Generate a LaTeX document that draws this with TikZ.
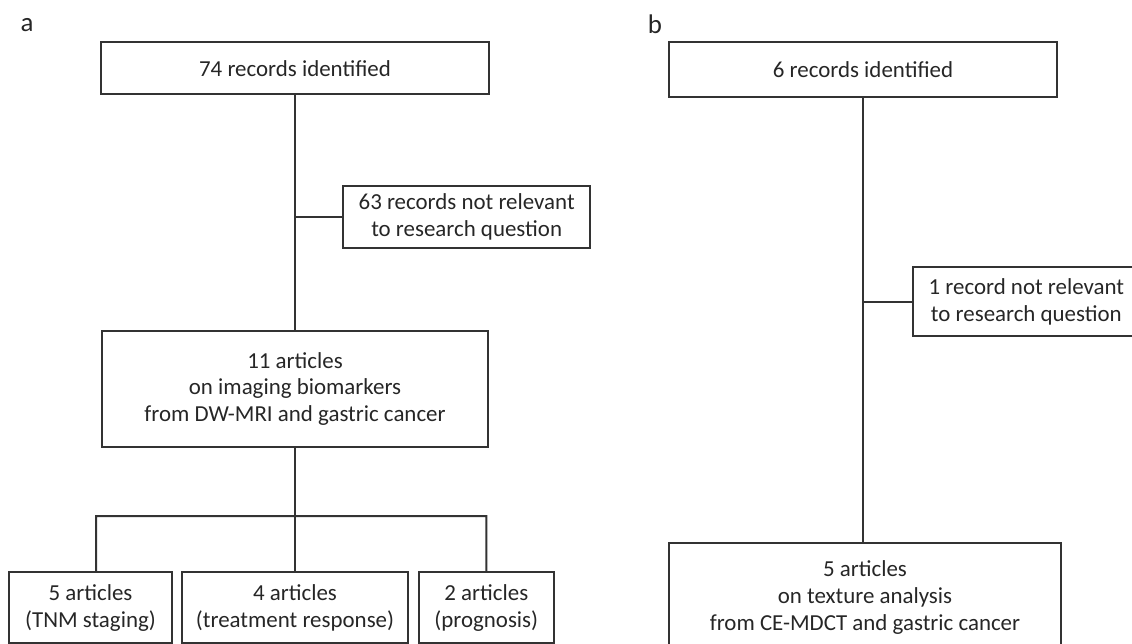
\documentclass[tikz,border=0pt]{standalone}
\usepackage{fontspec}
\setmainfont{Carlito}
\begin{document}
\begin{tikzpicture}[x=1bp,y=-1bp,
  box/.style={draw=black!80, line width=2bp, rectangle, inner sep=0pt, align=center,
    font=\fontsize{23}{27}\selectfont, text=black!85},
  conn/.style={draw=black!80, line width=2bp},
  panel/.style={font=\fontsize{27}{27}\selectfont, text=black!85}]
\useasboundingbox (0,0) rectangle (1132,644);
\clip (0,0) rectangle (1132,644);
% panel a
\node[panel] (la) at (27,25) {a};
\node[box, minimum width=387bp, minimum height=52bp] (T) at (295,68.3) {74 records identified};
\node[box, minimum width=246.7bp, minimum height=62.3bp] (E) at (466.65,216.85) {63 records not relevant\\to research question};
\node[box, minimum width=386.3bp, minimum height=116bp] (M) at (295,389) {11 articles\\on imaging biomarkers\\from DW-MRI and gastric cancer};
\node[box, minimum width=163bp, minimum height=71.3bp] (B1) at (90.5,607.65) {5 articles\\(TNM staging)};
\node[box, minimum width=226.6bp, minimum height=71.3bp] (B2) at (295,607.65) {4 articles\\(treatment response)};
\node[box, minimum width=135.4bp, minimum height=71.3bp] (B3) at (486.3,607.65) {2 articles\\(prognosis)};
\draw[conn] (T.south) -- (M.north);
\draw[conn] (T.south |- E.west) -- (E.west);
\coordinate (hl) at (96,516);
\coordinate (hr) at (486.3,516);
\draw[conn] (M.south) -- (B2.north);
\draw[conn] ([xshift=5.5bp]B1.north) -- (hl) -- (hr) -- (B3.north);
% panel b
\node[panel] (lb) at (655,24) {b};
\node[box, minimum width=387.4bp, minimum height=55.3bp] (T2) at (863,69.65) {6 records identified};
\node[box, minimum width=227.3bp, minimum height=68.7bp] (E2) at (1026.35,301.65) {1 record not relevant\\to research question};
\node[box, minimum width=391.4bp, minimum height=108.7bp] (M2) at (865,597.65) {5 articles\\on texture analysis\\from CE-MDCT and gastric cancer};
\draw[conn] (T2.south) -- (T2.south |- M2.north);
\draw[conn] (T2.south |- E2.west) -- (E2.west);
\end{tikzpicture}
\end{document}
